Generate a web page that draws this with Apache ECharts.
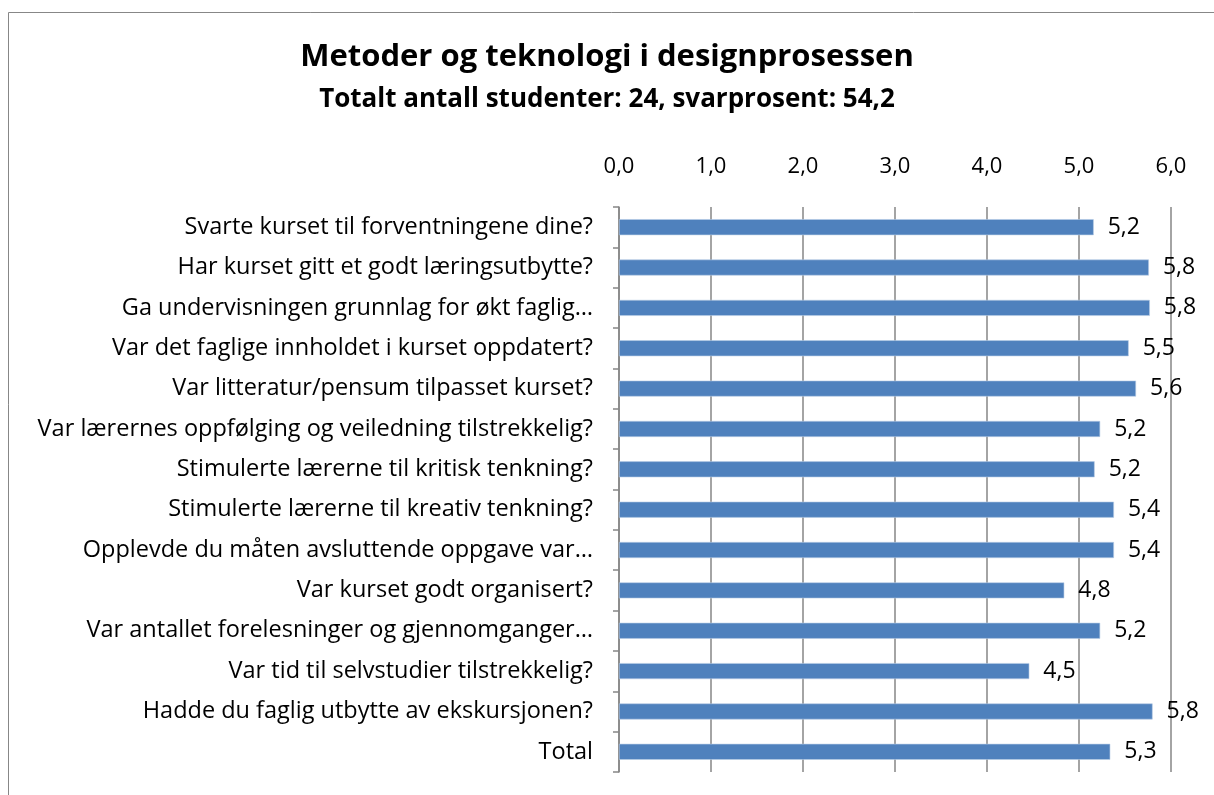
<!DOCTYPE html>
<html>
<head>
<meta charset="utf-8">
<script src="https://cdn.jsdelivr.net/npm/echarts@6/dist/echarts.min.js"></script>
<style>
    html, body { margin: 0; padding: 0; background: #fff; }
    #draw_area { width: 1214px; height: 795px; }
</style>
</head>
<body>
<div id="draw_area"></div>
<script>
"use strict";

// spørsmål, ovenfra og ned
var categories = [
    'Svarte kurset til forventningene dine?',
    'Har kurset gitt et godt læringsutbytte?',
    'Ga undervisningen grunnlag for økt faglig…',
    'Var det faglige innholdet i kurset oppdatert?',
    'Var litteratur/pensum tilpasset kurset?',
    'Var lærernes oppfølging og veiledning tilstrekkelig?',
    'Stimulerte lærerne til kritisk tenkning?',
    'Stimulerte lærerne til kreativ tenkning?',
    'Opplevde du måten avsluttende oppgave var…',
    'Var kurset godt organisert?',
    'Var antallet forelesninger og gjennomganger…',
    'Var tid til selvstudier tilstrekkelig?',
    'Hadde du faglig utbytte av ekskursjonen?',
    'Total'
];

// gjennomsnitt (lest av bildet)
var values = [5.16, 5.76, 5.77, 5.54, 5.62, 5.23, 5.17, 5.38, 5.38, 4.84, 5.23, 4.46, 5.80, 5.34];

var axis_min = 0;
var axis_max = 6;
var axis_step = 1;

var font = '"Open Sans", "Noto Sans", sans-serif';

//komma som desimaltegn
function komma(v) {
    return Number(v).toFixed(1).replace('.', ',');
}

const option = {
    animation: false,
    backgroundColor: '#fff',
    textStyle: { fontFamily: font },
    title: {
        text: 'Metoder og teknologi i designprosessen',
        subtext: 'Totalt antall studenter: 24, svarprosent: 54,2',
        left: 'center',
        top: 37,
        itemGap: 14,
        textStyle: { fontFamily: font, fontSize: 31, fontWeight: 'bold', color: '#000' },
        subtextStyle: { fontFamily: font, fontSize: 26, fontWeight: 'bold', color: '#000' }
    },
    graphic: [
        {
            type: 'rect',
            shape: { x: 8.5, y: 12.5, width: 1300, height: 900 },
            style: { fill: 'none', stroke: '#878787', lineWidth: 1 },
            silent: true
        }
    ],
    grid: {
        left: 619,
        right: 43,
        top: 207,
        bottom: 23,
        containLabel: false
    },
    xAxis: {
        type: 'value',
        position: 'top',
        min: axis_min,
        max: axis_max,
        interval: axis_step,
        axisLine: { show: false },
        axisTick: { show: false },
        axisLabel: {
            margin: 29,
            fontSize: 22,
            color: '#000',
            fontFamily: font,
            formatter: komma
        },
        splitLine: { show: true, lineStyle: { color: '#868686', width: 1.5 } }
    },
    yAxis: {
        type: 'category',
        inverse: true,
        data: categories,
        axisLine: { show: true, lineStyle: { color: '#868686', width: 1.5 } },
        axisTick: { show: true, length: 6, lineStyle: { color: '#868686', width: 1.5 } },
        axisLabel: {
            margin: 26,
            fontSize: 23.5,
            color: '#000',
            fontFamily: font
        }
    },
    series: [
        {
            type: 'bar',
            data: values,
            barWidth: 16,
            itemStyle: { color: '#4F81BD', borderColor: '#B9CDE5', borderWidth: 0.6 },
            label: {
                show: true,
                position: 'right',
                distance: 14,
                fontSize: 23,
                color: '#000',
                fontFamily: font,
                formatter: function (p) { return komma(p.value); }
            }
        }
    ]
};

var chart_object = echarts.init(document.getElementById('draw_area'));
chart_object.setOption(option);
</script>
</body>
</html>
